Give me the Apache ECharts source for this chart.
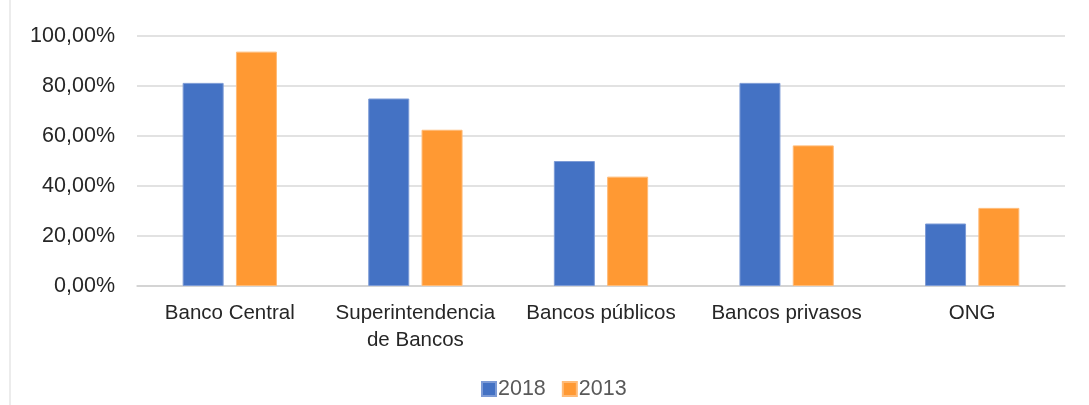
<!DOCTYPE html>
<html>
<head>
<meta charset="utf-8">
<script src="https://cdn.jsdelivr.net/npm/echarts@6/dist/echarts.min.js"></script>
<style>html,body{margin:0;padding:0;background:#fff}#c{width:1089px;height:405px}</style>
</head>
<body>
<div id="c"></div>
<script>
const categories = ['Banco Central', 'Superintendencia\nde Bancos', 'Bancos públicos', 'Bancos privasos', 'ONG'];
const seriesNames = ['2018', '2013'];
const values2018 = [81.25, 75, 50, 81.25, 25];
const values2013 = [93.75, 62.5, 43.75, 56.25, 31.25];
const colors = ['#4472C4', '#FF9933'];

const chart = echarts.init(document.getElementById('c'));
const font = '"Liberation Sans", Arial, sans-serif';
chart.setOption({
  animation: false,
  color: colors,
  grid: { left: 137, right: 24, top: 36, bottom: 119, containLabel: false },
  graphic: [{
    type: 'rect', shape: { x: 9.5, y: 0, width: 1, height: 405 },
    style: { fill: '#d9d9d9' }, silent: true
  }],
  legend: {
    data: seriesNames, left: 476, top: 373, itemWidth: 14, itemHeight: 14, itemGap: 16,
    icon: 'rect',
    textStyle: { fontFamily: font, fontSize: 21.5, color: '#595959', padding: [0, 0, 0, -3] }
  },
  xAxis: {
    type: 'category', data: categories,
    axisLine: { lineStyle: { color: '#d0d0d0', width: 1.5 } },
    axisTick: { show: false },
    axisLabel: { interval: 0, fontFamily: font, fontSize: 20.5, color: '#262626', lineHeight: 27, margin: 14 }
  },
  yAxis: {
    type: 'value', min: 0, max: 100, interval: 20,
    axisLine: { show: false }, axisTick: { show: false },
    splitLine: { lineStyle: { color: '#d9d9d9', width: 1.5 } },
    axisLabel: {
      fontFamily: font, fontSize: 21.5, color: '#262626', margin: 22,
      formatter: v => v.toFixed(2).replace('.', ',') + '%'
    }
  },
  series: [
    { name: seriesNames[0], type: 'bar', data: values2018, barWidth: 41, barGap: '30%',
      itemStyle: { color: colors[0], borderColor: '#7d9bd6', borderWidth: 1 } },
    { name: seriesNames[1], type: 'bar', data: values2013, barWidth: 41,
      itemStyle: { color: colors[1], borderColor: '#ffbb77', borderWidth: 1 } }
  ]
});
</script>
</body>
</html>
